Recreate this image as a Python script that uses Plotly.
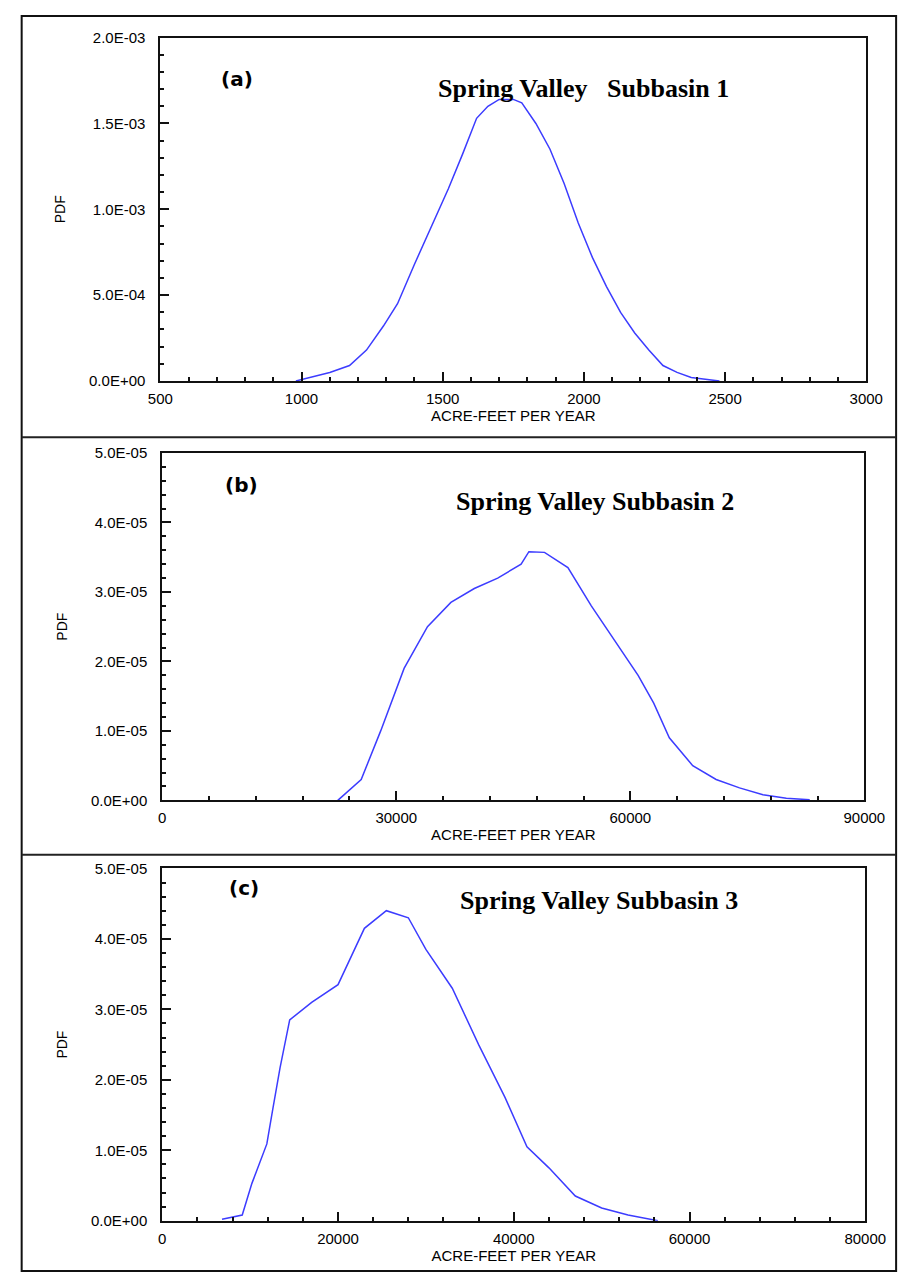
import plotly.graph_objects as go

W, H = 920, 1281

# ---------------- data ----------------
xa = [980, 1050, 1100, 1170, 1230, 1290, 1340, 1400, 1460, 1520, 1570, 1620, 1660, 1700,
      1750, 1780, 1830, 1880, 1930, 1980, 2030, 2080, 2130, 2180, 2230, 2280, 2330, 2380,
      2430, 2480]
ya = [0.0, 0.03, 0.05, 0.09, 0.18, 0.32, 0.45, 0.68, 0.90, 1.12, 1.32, 1.53, 1.60, 1.64,
      1.64, 1.62, 1.50, 1.35, 1.15, 0.92, 0.72, 0.55, 0.40, 0.28, 0.18, 0.09, 0.05, 0.02,
      0.01, 0.0]
ya = [v * 1e-3 for v in ya]

xb = [22500, 25500, 28000, 31000, 34000, 37000, 40000, 43000, 46000, 47000, 49000, 52000,
      55000, 58000, 61000, 63000, 65000, 68000, 71000, 74000, 77000, 80000, 83000]
yb = [0.0, 0.3, 1.0, 1.9, 2.5, 2.85, 3.05, 3.2, 3.4, 3.58, 3.57, 3.35, 2.8, 2.3, 1.8,
      1.4, 0.9, 0.5, 0.3, 0.18, 0.08, 0.03, 0.01]
yb = [v * 1e-5 for v in yb]

xc = [6800, 9100, 10200, 11900, 12600, 13400, 14500, 17000, 20000, 23000, 25500, 28000,
      30000, 33000, 36000, 39000, 41500, 44000, 47000, 50000, 53000, 56400]
yc = [0.02, 0.08, 0.53, 1.09, 1.6, 2.17, 2.85, 3.1, 3.35, 4.15, 4.4, 4.3, 3.85, 3.3, 2.5,
      1.75, 1.05, 0.75, 0.35, 0.18, 0.08, 0.0]
yc = [v * 1e-5 for v in yc]

ytick_a = [0, 5e-4, 1e-3, 1.5e-3, 2e-3]
ytxt_a = ["0.0E+00", "5.0E-04", "1.0E-03", "1.5E-03", "2.0E-03"]
ytick_bc = [0, 1e-5, 2e-5, 3e-5, 4e-5, 5e-5]
ytxt_bc = ["0.0E+00", "1.0E-05", "2.0E-05", "3.0E-05", "4.0E-05", "5.0E-05"]

titles = ["Spring Valley   Subbasin 1", "Spring Valley Subbasin 2", "Spring Valley Subbasin 3"]
labels = ["(a)", "(b)", "(c)"]

# ---------------- layout geometry (pixels) ----------------
panels = [
    dict(x0=153, x1=886, y0=29, y1=377, xr=[500, 3000], xd=500, xm=100,
         yr=[0, 2e-3], ym=1e-4, yt=ytick_a, ytt=ytxt_a, x=xa, y=ya,
         lab=(214, 57), tit=(592, 64)),
    dict(x0=155, x1=884, y0=450, y1=802, xr=[0, 90000], xd=30000, xm=6000,
         yr=[0, 5e-5], ym=2e-6, yt=ytick_bc, ytt=ytxt_bc, x=xb, y=yb,
         lab=(218, 482), tit=(604, 499)),
    dict(x0=155, x1=885, y0=871, y1=1228, xr=[0, 80000], xd=20000, xm=4000,
         yr=[0, 5e-5], ym=2e-6, yt=ytick_bc, ytt=ytxt_bc, x=xc, y=yc,
         lab=(222, 905), tit=(609, 920)),
]

def px(x):
    return x / W

def py(y):
    return 1 - y / H

SANS = "Liberation Sans, Arial, sans-serif"
fig = go.Figure()
tickfont = dict(family=SANS, size=15, color="black")
annotations = []
shapes = []

for i, p in enumerate(panels):
    n = "" if i == 0 else str(i + 1)
    fig.add_trace(go.Scatter(x=p["x"], y=p["y"], mode="lines",
                             line=dict(color="#3c3cff", width=1.5),
                             xaxis="x" + n, yaxis="y" + n, showlegend=False))
    axcommon = dict(showline=True, mirror=True, linecolor="#111", linewidth=2,
                    ticks="inside", ticklen=9, tickcolor="#111", tickwidth=2,
                    showgrid=False, zeroline=False, tickfont=tickfont)
    fig.layout["xaxis" + n] = dict(
        axcommon, domain=[px(p["x0"]), px(p["x1"])], range=p["xr"],
        anchor="y" + n, tick0=p["xr"][0], dtick=p["xd"],
        minor=dict(ticks="inside", ticklen=4, dtick=p["xm"], tickcolor="#111", tickwidth=2),
        title=dict(text="ACRE-FEET PER YEAR", standoff=4,
                   font=dict(family=SANS, size=15, color="black")),
        tickformat="d", ticklabelstandoff=3)
    fig.layout["yaxis" + n] = dict(
        axcommon, domain=[py(p["y1"]), py(p["y0"])], range=p["yr"],
        anchor="x" + n, tickvals=p["yt"], ticktext=p["ytt"],
        minor=dict(ticks="inside", ticklen=4, tickvals=[k * p["ym"] for k in range(0, 26)],
                   tickcolor="#111", tickwidth=2),
        ticklabelstandoff=10,
        title=dict(text="PDF", standoff=20,
                   font=dict(family=SANS, size=14, color="black")))
    # panel label
    annotations.append(dict(x=px(p["lab"][0]), y=py(p["lab"][1]), xref="paper", yref="paper",
                            text="<b>" + labels[i] + "</b>", showarrow=False,
                            font=dict(family="DejaVu Sans, sans-serif", size=20, color="black")))
    # title
    annotations.append(dict(x=px(p["tit"][0]), y=py(p["tit"][1]), xref="paper", yref="paper",
                            text="<b>" + titles[i] + "</b>", showarrow=False,
                            font=dict(family="Liberation Serif, Times New Roman, serif", size=26, color="black")))

# outer border and separators
shapes.append(dict(type="rect", xref="paper", yref="paper", x0=px(9), x1=px(917), y0=py(1279), y1=py(7),
                   line=dict(color="#111", width=2)))
for yy in [434, 857]:
    shapes.append(dict(type="line", xref="paper", yref="paper", x0=px(9), x1=px(917), y0=py(yy), y1=py(yy),
                       line=dict(color="#222", width=2)))

fig.update_layout(width=W, height=H, margin=dict(l=0, r=0, t=0, b=0),
                  paper_bgcolor="white", plot_bgcolor="white",
                  annotations=annotations, shapes=shapes)

fig.write_html("out.html")
